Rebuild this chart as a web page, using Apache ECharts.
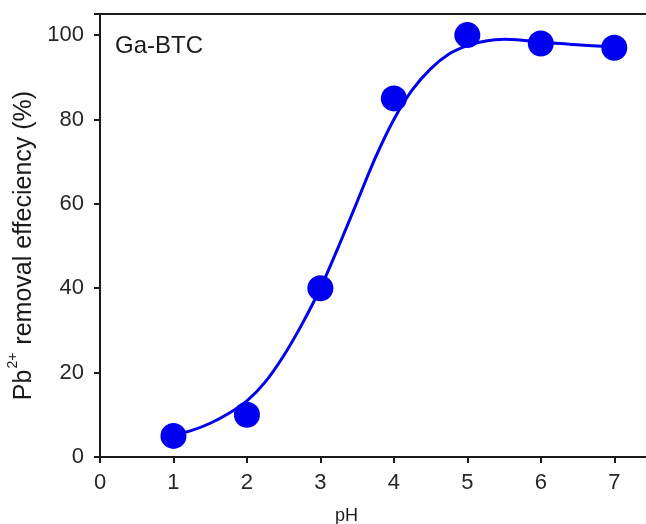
<!DOCTYPE html>
<html>
<head>
<meta charset="utf-8">
<script src="https://cdn.jsdelivr.net/npm/echarts@6/dist/echarts.min.js"></script>
<style>
  html, body { margin: 0; padding: 0; background: #fff; }
  #chart { width: 646px; height: 524px; }
</style>
</head>
<body>
<div id="chart"></div>
<script>
// Measured Pb2+ removal at each pH
const phValues = [1, 2, 3, 4, 5, 6, 7];
const removal = [5, 10, 40, 85, 100, 98, 97];

// Fitted trend curve, sampled every 0.25 pH unit
const fitPh = [1, 1.25, 1.5, 1.75, 2, 2.25, 2.5, 2.75, 3, 3.25, 3.5, 3.75, 4,
               4.25, 4.5, 4.75, 5, 5.25, 5.5, 5.75, 6, 6.5, 7];
const fitRemoval = [5.2, 6.3, 8, 10.3, 13.3, 17.8, 24, 31.5, 40, 50, 60.5, 71, 80,
                    87, 92, 95.5, 97.5, 98.6, 99, 98.8, 98.4, 97.7, 97.2];

// Axis ticks
const xTicks = [0, 1, 2, 3, 4, 5, 6, 7];
const yTicks = [0, 20, 40, 60, 80, 100];

const blue = '#0000f0';
const ink = '#1a1a1a';
const font = 'Liberation Sans, Arial, sans-serif';

const chart = echarts.init(document.getElementById('chart'), null, { renderer: 'canvas' });

chart.setOption({
  animation: false,
  backgroundColor: '#fff',
  title: {
    text: 'Ga-BTC',
    left: 110,
    top: 29,
    textStyle: { fontFamily: font, fontSize: 24, fontWeight: 'normal', color: ink }
  },
  grid: {
    left: 100, right: -5, top: 14, bottom: 67,
    outerBoundsMode: 'none',
    containLabel: false,
    show: true, borderColor: ink, borderWidth: 2, backgroundColor: 'transparent'
  },
  xAxis: {
    type: 'value',
    min: 0, max: 7.5, interval: 1,
    name: 'pH',
    nameLocation: 'middle',
    nameGap: 50,
    nameTextStyle: { fontFamily: font, fontSize: 18, color: ink, padding: [0, 58, 0, 0] },
    axisLine: { show: true, onZero: false, lineStyle: { color: ink, width: 2 } },
    axisTick: { show: true, inside: false, length: 6, lineStyle: { color: ink, width: 2 } },
    axisLabel: {
      margin: 15, fontFamily: font, fontSize: 22, color: '#262626',
      formatter: v => (xTicks.indexOf(v) >= 0 ? String(v) : '')
    },
    splitLine: { show: false }
  },
  yAxis: {
    type: 'value',
    min: 0, max: 105, interval: 20,
    name: '{a|Pb}{s|2+}{a| removal effeciency (%)}',
    nameLocation: 'middle',
    nameGap: 63,
    nameRotate: 90,
    nameTextStyle: {
      padding: [0, 20, 0, 0],
      rich: {
        a: { fontFamily: font, fontSize: 25, color: ink, lineHeight: 30, verticalAlign: 'bottom' },
        s: { fontFamily: font, fontSize: 14, color: ink, lineHeight: 30, verticalAlign: 'top', padding: [0, 1, 0, 1] }
      }
    },
    axisLine: { show: true, onZero: false, lineStyle: { color: ink, width: 2 } },
    axisTick: { show: true, inside: false, length: 6, lineStyle: { color: ink, width: 2 } },
    axisLabel: {
      margin: 16, fontFamily: font, fontSize: 22, color: '#262626',
      formatter: v => (yTicks.indexOf(v) >= 0 ? String(v) : '')
    },
    splitLine: { show: false }
  },
  series: [
    {
      type: 'line',
      data: fitPh.map((x, i) => [x, fitRemoval[i]]),
      smooth: 0.3,
      showSymbol: false,
      lineStyle: { color: blue, width: 3 },
      z: 2
    },
    {
      type: 'scatter',
      data: phValues.map((x, i) => [x, removal[i]]),
      symbol: 'circle',
      symbolSize: 26,
      itemStyle: { color: blue, opacity: 1 },
      z: 3
    }
  ]
});
</script>
</body>
</html>
